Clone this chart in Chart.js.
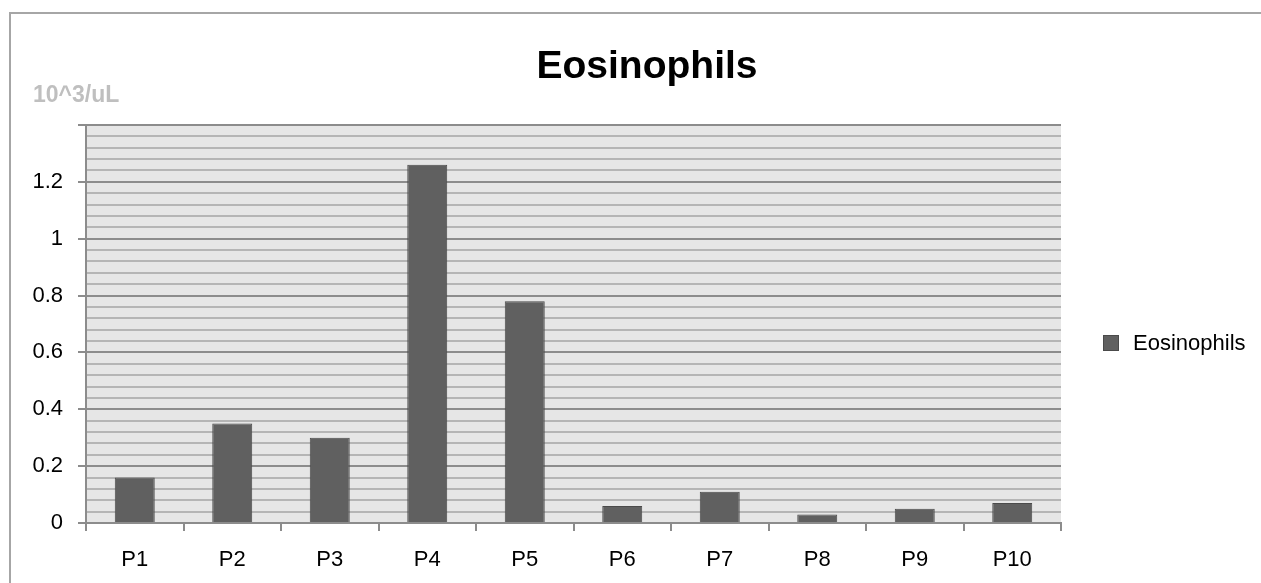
<!DOCTYPE html>
<html>
<head>
<meta charset="utf-8">
<title>Eosinophils</title>
<script src="https://cdn.jsdelivr.net/npm/chart.js@4"></script>
<style>
  html, body { margin: 0; padding: 0; background: #fff; }
  #wrap { position: relative; width: 1261px; height: 583px; }
  #frame {
    position: absolute; left: 9px; top: 12px; right: 0; bottom: 0;
    border-left: 2px solid #a6a6a6; border-top: 2px solid #a6a6a6;
    pointer-events: none;
  }
</style>
</head>
<body>
<div id="wrap">
  <canvas id="chart" width="1261" height="583"></canvas>
  <div id="frame"></div>
</div>
<script>
// Chart data
const categories = ["P1", "P2", "P3", "P4", "P5", "P6", "P7", "P8", "P9", "P10"];
const seriesName = "Eosinophils";
const eosinophils = [0.16, 0.35, 0.30, 1.26, 0.78, 0.06, 0.11, 0.03, 0.05, 0.07];
const yTickLabels = ["0", "0.2", "0.4", "0.6", "0.8", "1", "1.2"];
const chartTitle = "Eosinophils";
const unitLabel = "10^3/uL";

const FONT = "'Liberation Sans', Arial, sans-serif";
const BAR_FILL = "#606060";
const BAR_EDGE = "#4a4a4a";
const MAJOR = "#8c8c8c";
const MINOR = "#b5b5b5";

// a gridline is "major" on every 0.2 step
function isMajor(v) {
  return Math.abs(v / 0.2 - Math.round(v / 0.2)) < 1e-6;
}

// plot background, title, unit label and the legend entry
const decorPlugin = {
  id: "decor",
  beforeDraw(chart) {
    const { ctx, chartArea: a } = chart;
    ctx.save();
    ctx.fillStyle = "#e6e6e6";
    ctx.fillRect(a.left, a.top, a.right - a.left, a.bottom - a.top);
    ctx.restore();
  },
  afterDraw(chart) {
    const ctx = chart.ctx;
    ctx.save();
    ctx.textBaseline = "middle";

    ctx.fillStyle = "#000";
    ctx.textAlign = "center";
    ctx.font = "bold 39px " + FONT;
    ctx.fillText(chartTitle, 647, 67);

    ctx.fillStyle = "#bfbfbf";
    ctx.textAlign = "left";
    ctx.font = "bold 23px " + FONT;
    ctx.fillText(unitLabel, 33, 96);

    let ds = chart.data.datasets[0];
    ctx.fillStyle = ds.backgroundColor;
    ctx.strokeStyle = ds.borderColor;
    ctx.lineWidth = 1;
    ctx.fillRect(1103, 335, 16, 16);
    ctx.strokeRect(1103.5, 335.5, 15, 15);

    ctx.fillStyle = "#000";
    ctx.font = "22px " + FONT;
    ctx.fillText(ds.label, 1133, 344);
    ctx.restore();
  }
};

new Chart(document.getElementById("chart"), {
  type: "bar",
  data: {
    labels: categories,
    datasets: [{
      label: seriesName,
      data: eosinophils,
      backgroundColor: BAR_FILL,
      borderColor: BAR_EDGE,
      borderWidth: 1,
      barPercentage: 0.41,
      categoryPercentage: 1
    }]
  },
  options: {
    responsive: false,
    animation: false,
    layout: { padding: { top: 125, right: 200, left: 0, bottom: 0 } },
    plugins: {
      legend: { display: false },
      title: { display: false },
      tooltip: { enabled: false }
    },
    scales: {
      x: {
        afterFit(scale) { scale.height = 60; },
        grid: { offset: true, drawOnChartArea: false, tickLength: 8, color: MAJOR, lineWidth: 2 },
        border: { color: MAJOR, width: 2 },
        ticks: { color: "#000", font: { family: FONT, size: 22 }, padding: 16 }
      },
      y: {
        min: 0,
        max: 1.4,
        afterFit(scale) { scale.width = 86; },
        grid: {
          color: ctx => isMajor(ctx.tick.value) ? MAJOR : MINOR,
          tickColor: ctx => isMajor(ctx.tick.value) ? MAJOR : "rgba(0,0,0,0)",
          lineWidth: 2,
          tickLength: 8
        },
        border: { color: MAJOR, width: 2 },
        ticks: {
          stepSize: 0.04,
          maxTicksLimit: 100,
          autoSkip: false,
          padding: 15,
          color: "#000",
          font: { family: FONT, size: 22 },
          callback: function(value) {
            if (!isMajor(value)) return "";
            let label = yTickLabels[Math.round(value / 0.2)];
            return label === undefined ? "" : label;
          }
        }
      }
    }
  },
  plugins: [decorPlugin]
});
</script>
</body>
</html>
